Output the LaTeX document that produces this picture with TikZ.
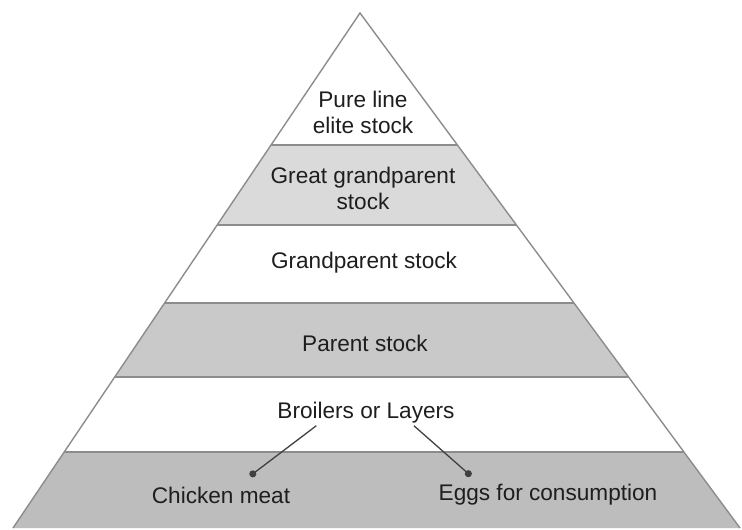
\documentclass[tikz,border=0pt]{standalone}
\usepackage{fontspec}
\setmainfont{Liberation Sans}
\usetikzlibrary{calc,arrows.meta}
\definecolor{edgegray}{HTML}{8C8C8C}
\definecolor{bandA}{HTML}{DADADA}
\definecolor{bandB}{HTML}{C9C9C9}
\definecolor{bandC}{HTML}{BDBDBD}
\definecolor{txt}{HTML}{1E1E1E}
\tikzset{
  lbl/.style={font=\fontsize{22.6}{27}\selectfont, text=txt, align=center, inner sep=0pt},
  sep/.style={draw=edgegray, line width=2pt},
  outline/.style={draw=edgegray, line width=1.4pt, line join=miter},
  conn/.style={draw=black!75, line width=1.3pt, -{Circle[length=7pt,width=7pt]}}
}
\begin{document}
\begin{tikzpicture}[x=1pt,y=-1pt]
\useasboundingbox (0,0) rectangle (742,530);
\coordinate (A) at (360,13);
\coordinate (L) at (13,528);
\coordinate (R) at (740,528);
% boundary points
\foreach \n/\t in {1/0.2563,2/0.4117,3/0.5631,4/0.7068,5/0.8524}{
  \coordinate (l\n) at ($(A)!\t!(L)$);
  \coordinate (r\n) at ($(A)!\t!(R)$);
}
% bands
\fill[bandA] (l1) -- (r1) -- (r2) -- (l2) -- cycle;
\fill[bandB] (l3) -- (r3) -- (r4) -- (l4) -- cycle;
\fill[bandC] (l5) -- (r5) -- (R) -- (L) -- cycle;
% separators
\foreach \n in {1,...,5}{ \draw[sep] (l\n) -- (r\n); }
% outline
\draw[outline] (L) -- (A) -- (R);
% labels
\node[lbl] (pure) at (363,112) {Pure line\\[-1pt]elite stock};
\node[lbl] (ggp) at (363,188) {Great grandparent\\[-1pt]stock};
\node[lbl] (gp) at (364,263) {Grandparent stock};
\node[lbl] (ps) at (365,343) {Parent stock};
\node[lbl] (bl) at (366,413) {Broilers or Layers};
\node[lbl] (cm) at (221,495) {Chicken meat};
\node[lbl] (eg) at (548,495) {Eggs for consumption};
% connectors
\coordinate (cmend) at (250,476);
\coordinate (egend) at (471,476);
\draw[conn] ($(bl.south west)!0.22!(bl.south east)+(0,2)$) coordinate (bls) -- (cmend);
\draw[conn] ($(bl.south west)!0.77!(bl.south east)+(0,2)$) coordinate (ble) -- (egend);
\end{tikzpicture}
\end{document}
